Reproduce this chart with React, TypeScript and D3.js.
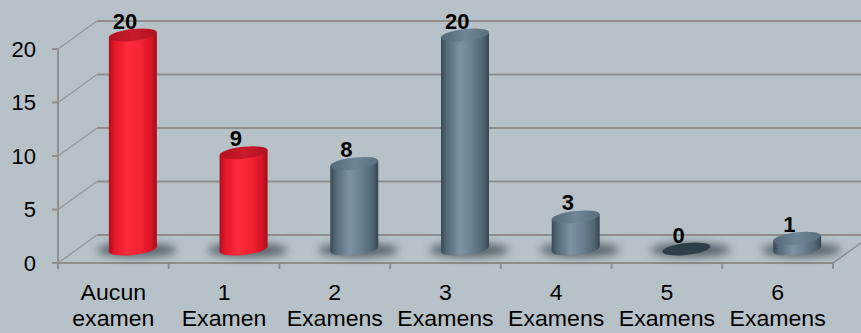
import React from "react";
import * as d3 from "d3";

// Number of exams taken, per group of respondents
const categories: string[][] = [
  ["Aucun", "examen"],
  ["1", "Examen"],
  ["2", "Examens"],
  ["3", "Examens"],
  ["4", "Examens"],
  ["5", "Examens"],
  ["6", "Examens"],
];
const values = [20, 9, 8, 20, 3, 0, 1];
const highlighted = [true, true, false, false, false, false, false];
const yTicks = [0, 5, 10, 15, 20];

const W = 861;
const H = 333;
const FONT = "Arial, 'Liberation Sans', sans-serif";

// 3D box geometry
const left = 58;
const right = 833;
const floorY = 263;
const topY = 49;
const depthX = 39;
const depthY = -28;
const rx = 24;
const ry = 6;
const tilt = -6;

export default function App() {
  const x = d3
    .scaleBand<number>()
    .domain(d3.range(categories.length))
    .range([left, right])
    .padding(0);
  const y = d3.scaleLinear().domain([0, 20]).range([floorY, topY]);

  const gridColor = "#8e8e8e";
  const bg = "#b7c2c8";

  return (
    <svg
      width={W}
      height={H}
      style={{ position: "absolute", left: 0, top: 0 }}
      fontFamily={FONT}
    >
      <defs>
        <linearGradient id="gray" x1="0" x2="1" y1="0" y2="0">
          <stop offset="0%" stopColor="#3a4a55" />
          <stop offset="12%" stopColor="#566a78" />
          <stop offset="40%" stopColor="#7d93a3" />
          <stop offset="62%" stopColor="#6c8292" />
          <stop offset="88%" stopColor="#526573" />
          <stop offset="100%" stopColor="#36454f" />
        </linearGradient>
        <linearGradient id="grayTop" x1="0" x2="1" y1="0" y2="0">
          <stop offset="0%" stopColor="#546876" />
          <stop offset="50%" stopColor="#6f8696" />
          <stop offset="100%" stopColor="#5a6f7e" />
        </linearGradient>
        <linearGradient id="red" x1="0" x2="1" y1="0" y2="0">
          <stop offset="0%" stopColor="#b00d1a" />
          <stop offset="12%" stopColor="#e4182a" />
          <stop offset="40%" stopColor="#ff2b3d" />
          <stop offset="65%" stopColor="#f62335" />
          <stop offset="88%" stopColor="#d61526" />
          <stop offset="100%" stopColor="#a50c18" />
        </linearGradient>
        <linearGradient id="redTop" x1="0" x2="1" y1="0" y2="0">
          <stop offset="0%" stopColor="#b5121f" />
          <stop offset="50%" stopColor="#c91b2a" />
          <stop offset="100%" stopColor="#b31220" />
        </linearGradient>
        <filter id="soft" x="-50%" y="-100%" width="200%" height="300%">
          <feGaussianBlur stdDeviation="4" />
        </filter>
      </defs>

      <rect width={W} height={H} fill={bg} />

      {/* back wall gridlines and left wall diagonals */}
      {yTicks.map((t) => (
        <g key={"g" + t}>
          <line
            x1={left + depthX}
            x2={W + 20}
            y1={y(t) + depthY}
            y2={y(t) + depthY}
            stroke={gridColor}
            strokeWidth={2}
          />
          <line
            x1={left}
            y1={y(t)}
            x2={left + depthX}
            y2={y(t) + depthY}
            stroke={gridColor}
            strokeWidth={1.5}
            opacity={0.8}
          />
          <line
            x1={left - 6}
            x2={left}
            y1={y(t)}
            y2={y(t)}
            stroke={gridColor}
            strokeWidth={2}
          />
          <text
            x={36}
            y={y(t)}
            dy="0.36em"
            textAnchor="end"
            fontSize={22}
            fill="#000"
          >
            {t}
          </text>
        </g>
      ))}

      {/* floor edges and axis */}
      <line x1={left} x2={left} y1={topY} y2={floorY} stroke={gridColor} strokeWidth={2} />
      <line x1={left} x2={right} y1={floorY} y2={floorY} stroke={gridColor} strokeWidth={2} />
      <line
        x1={right}
        y1={floorY}
        x2={right + depthX}
        y2={floorY + depthY}
        stroke={gridColor}
        strokeWidth={1.5}
      />
      {d3.range(categories.length + 1).map((i) => {
        const xx = left + i * x.bandwidth();
        return (
          <line
            key={"t" + i}
            x1={xx}
            x2={xx}
            y1={floorY}
            y2={floorY + 6}
            stroke={gridColor}
            strokeWidth={2}
          />
        );
      })}

      {/* shadows */}
      {values.map((v, i) => {
        const cx = (x(i) as number) + x.bandwidth() / 2 + depthX / 2;
        const base = floorY + depthY / 2;
        return (
          <ellipse
            key={"s" + i}
            cx={cx + 4}
            cy={base + 1}
            rx={40}
            ry={7}
            fill="#46525a"
            opacity={0.85}
            filter="url(#soft)"
          />
        );
      })}

      {/* cylinders */}
      {values.map((v, i) => {
        const cx = (x(i) as number) + x.bandwidth() / 2 + depthX / 2;
        const base = floorY + depthY / 2;
        const h = floorY - y(v);
        const red = highlighted[i];
        if (v === 0) {
          return (
            <g key={"c" + i} transform={`translate(${cx},${base}) skewY(${tilt})`}>
              <ellipse cx={0} cy={0} rx={rx} ry={ry} fill="#2f3e48" />
            </g>
          );
        }
        const body = `M${-rx},${-h} L${-rx},0 A${rx},${ry} 0 0 0 ${rx},0 L${rx},${-h} Z`;
        return (
          <g key={"c" + i} transform={`translate(${cx},${base}) skewY(${tilt})`}>
            <path d={body} fill={red ? "url(#red)" : "url(#gray)"} />
            <ellipse
              cx={0}
              cy={-h}
              rx={rx}
              ry={ry}
              fill={red ? "url(#redTop)" : "url(#grayTop)"}
            />
          </g>
        );
      })}

      {/* value labels */}
      {values.map((v, i) => {
        const lx = (x(i) as number) + x.bandwidth() / 2 + depthX * 0.3;
        const ly = y(v) + depthY / 2 - ry - 0.5;
        return (
          <text
            key={"v" + i}
            x={lx}
            y={ly}
            textAnchor="middle"
            fontSize={22}
            fontWeight="bold"
            fill="#000"
          >
            {v}
          </text>
        );
      })}

      {/* category labels */}
      {categories.map((lines, i) => {
        const cx = (x(i) as number) + x.bandwidth() / 2;
        return (
          <g key={"l" + i} transform={`translate(${cx},0) scale(1.05,1)`}>
            <text textAnchor="middle" fontSize={22} fill="#000">
              <tspan x={0} y={300}>
                {lines[0]}
              </tspan>
              <tspan x={0} y={326}>
                {lines[1]}
              </tspan>
            </text>
          </g>
        );
      })}
    </svg>
  );
}
